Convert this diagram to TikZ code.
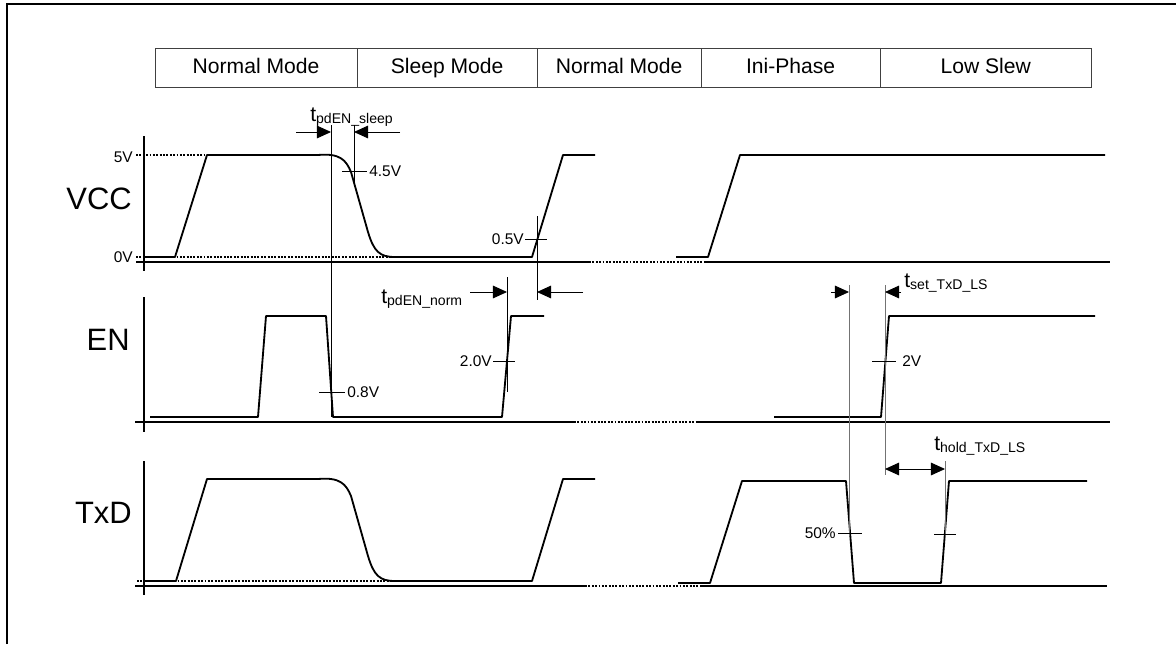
\documentclass[tikz,border=0pt]{standalone}
\usepackage{fontspec}
\setmainfont{Liberation Sans}
\usetikzlibrary{positioning, arrows.meta}
\newcommand{\tsym}[1]{{\fontsize{15}{15}\selectfont t}\raisebox{-1.5pt}{\fontsize{10}{10}\selectfont #1}}

\begin{document}
\begin{tikzpicture}[
    x=0.025cm, y=-0.025cm,
    sig/.style={line width=1.3pt, line join=round},
    axisline/.style={line width=1.3pt},
    levdots/.style={line width=1.3pt, dash pattern=on 1.4pt off 1pt},
    dimline/.style={line width=0.6pt},
    guide/.style={line width=0.7pt, black!55},
    dimarrow/.style={line width=0.6pt, -{Triangle[length=10pt,width=9pt]}},
    dimboth/.style={line width=0.6pt, {Triangle[length=10pt,width=9pt]}-{Triangle[length=10pt,width=9pt]}},
    mode/.style={draw=black!75, line width=0.7pt, minimum height=0.975cm,
      outer sep=0pt, inner sep=0pt, text height=11pt, text depth=3pt,
      font=\fontsize{15}{18}\selectfont},
    siglabel/.style={anchor=east, inner sep=0pt, font=\fontsize{22}{26}\selectfont},
    lvl/.style={inner sep=0pt, font=\fontsize{11}{13}\selectfont}
  ]
  \useasboundingbox (0,0) rectangle (1176,644);
  \draw[line width=1.5pt] (7,644) |- (1176,4);

  % operating modes
  \node[mode, minimum width=5.05cm, anchor=north west] (m1) at (155,48) {Normal Mode};
  \node[mode, minimum width=4.5cm, right=0pt of m1] (m2) {Sleep Mode};
  \node[mode, minimum width=4.1cm, right=0pt of m2] (m3) {Normal Mode};
  \node[mode, minimum width=4.475cm, right=0pt of m3] (m4) {Ini-Phase};
  \node[mode, minimum width=5.275cm, right=0pt of m4] (m5) {Low Slew};

  % signal names
  \node[siglabel] (vcc) at (132,199) {VCC};
  \node[siglabel] (en) at (130,340) {EN};
  \node[siglabel] (txd) at (132,513) {TxD};

  % axes
  \draw[axisline] (144,136) -- (144,271) (136,262) -- (589,262) (706,262) -- (1110,262);
  \draw[levdots] (589,262) -- (706,262);
  \draw[axisline] (144,297) -- (144,432) (135,422) -- (574,422) (697,422) -- (1110,422);
  \draw[levdots] (574,422) -- (697,422);
  \draw[axisline] (144,461) -- (144,595) (135,586) -- (585,586) (700,586) -- (1107,586);
  \draw[levdots] (585,586) -- (703,586);

  % VCC
  \node[lvl, anchor=east] (v5) at (133,157) {5V};
  \node[lvl, anchor=east] (v0) at (133,257) {0V};
  \draw[levdots] (136,155) -- (252,155) (136,257) -- (503,257);
  \draw[sig] (144,257) -- (175,257) -- (207,155) -- (318,155)
    .. controls (340,153) and (346,160) .. (351,172) -- (368,232)
    .. controls (374,252) and (380,257) .. (395,257) -- (532,257) -- (563,155) -- (595,155);
  \draw[sig] (676,257) -- (708,257) -- (740,155) -- (1105,155);

  % EN
  \draw[sig] (150,417) -- (258,417) -- (266,316) -- (326,316) -- (333,417)
    -- (502,417) -- (511,316) -- (544,316);
  \draw[sig] (774,417) -- (881,417) -- (889,316) -- (1095,316);

  % TxD
  \draw[levdots] (137,581) -- (503,581) (769,481) -- (824,481);
  \draw[sig] (144,581) -- (176,581) -- (207,479) -- (318,479)
    .. controls (340,477) and (346,484) .. (351,496) -- (368,556)
    .. controls (374,576) and (380,581) .. (395,581) -- (532,581) -- (563,479) -- (595,479);
  \draw[sig] (678,583) -- (710,583) -- (742,481) -- (846,481) -- (854,583)
    -- (941,583) -- (949,481) -- (1087,481);

  % t_pdEN_sleep
  \draw[dimline] (331,125) -- (331,417) (354,125) -- (354,185);
  \draw[dimarrow] (296,132) -- (331,132);
  \draw[dimarrow] (400,132) -- (354,132);
  \node[anchor=west, inner sep=0pt] (tsleep) at (310,117) {\tsym{pdEN\_sleep}};
  \draw[dimline] (342,171) -- (367,171);
  \node[lvl, anchor=west] (v45) at (369,171) {4.5V};

  % t_pdEN_norm
  \draw[dimline] (537,216) -- (537,300) (525,239) -- (547,239);
  \node[lvl, anchor=east] (v05) at (524,239) {0.5V};
  \draw[dimline] (507,277) -- (507,392) (493,361) -- (515,361);
  \node[lvl, anchor=east] (v20) at (492,361) {2.0V};
  \draw[dimarrow] (470,292) -- (507,292);
  \draw[dimarrow] (583,292) -- (537,292);
  \node[anchor=west, inner sep=0pt] (tnorm) at (381,299) {\tsym{pdEN\_norm}};
  \draw[dimline] (319,392) -- (345,392);
  \node[lvl, anchor=west] (v08) at (347,392) {0.8V};

  % t_set_TxD_LS / t_hold_TxD_LS
  \draw[guide] (849,285) -- (849,536) (885,285) -- (885,475) (945,461) -- (945,537);
  \draw[dimarrow] (831,292) -- (849,292);
  \draw[dimarrow] (901,292) -- (885,292);
  \node[anchor=west, inner sep=0pt] (tset) at (904,283) {\tsym{set\_TxD\_LS}};
  \draw[dimline] (872,361) -- (896,361);
  \node[lvl, anchor=west] (v2) at (902,361) {2V};
  \draw[dimboth] (885,469) -- (945,469);
  \node[anchor=west, inner sep=0pt] (thold) at (934,446) {\tsym{hold\_TxD\_LS}};
  \draw[dimline] (838,533) -- (862,533) (934,534) -- (956,534);
  \node[lvl, anchor=east] (p50) at (836,533) {50\%};
\end{tikzpicture}
\end{document}
